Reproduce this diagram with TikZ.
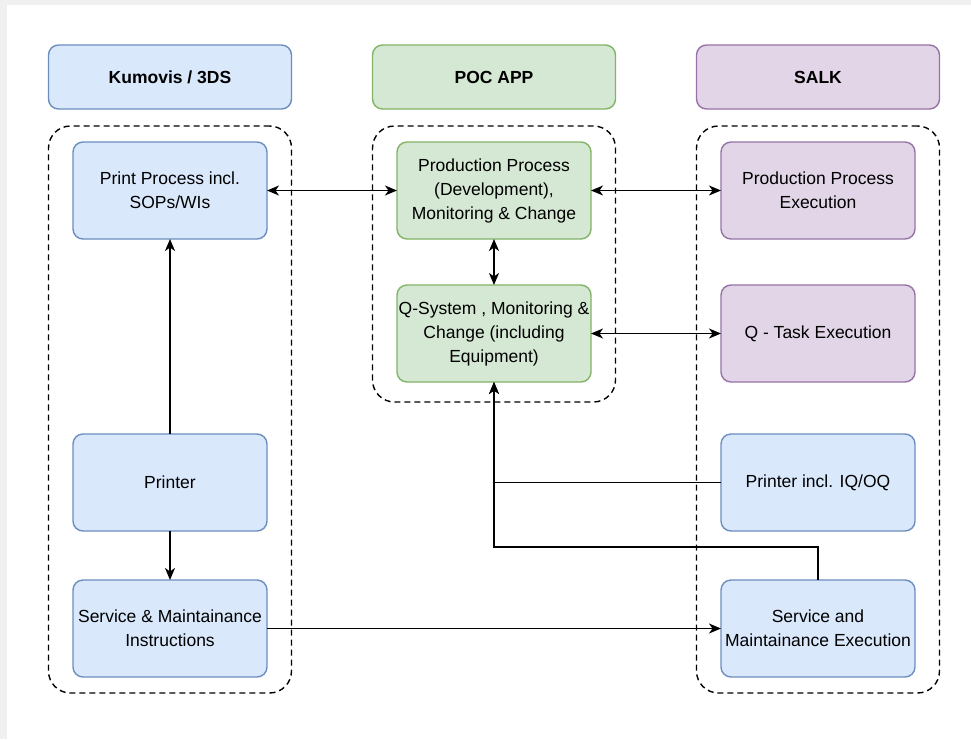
\documentclass[tikz,border=0pt]{standalone}
\usepackage{fontspec}
\setmainfont{Liberation Sans}
\usetikzlibrary{arrows.meta,positioning,fit}
\definecolor{kfill}{HTML}{DAE8FC}
\definecolor{kline}{HTML}{6C8EBF}
\definecolor{pfill}{HTML}{D5E8D4}
\definecolor{pline}{HTML}{82B366}
\definecolor{sfill}{HTML}{E1D5E7}
\definecolor{sline}{HTML}{9673A6}
\definecolor{pageedge}{HTML}{F0F0F0}

\begin{document}
\begin{tikzpicture}[x=1pt, y=1pt,
  font=\fontsize{17.5}{24}\selectfont,
  >={Stealth[length=12pt, width=10pt, inset=3.5pt]},
  task/.style={draw, rounded corners=10pt, align=center, minimum width=194pt, minimum height=97pt, inner sep=1pt, outer sep=0pt, line width=1.4pt},
  kum/.style={task, fill=kfill, draw=kline},
  poc/.style={task, fill=pfill, draw=pline},
  salk/.style={task, fill=sfill, draw=sline},
  head/.style={minimum width=243pt, minimum height=64pt, font=\fontsize{17.5}{24}\selectfont\bfseries},
  grp/.style={draw, dash pattern=on 6pt off 4pt, rounded corners=22pt, line width=1.4pt, inner xsep=24.5pt, inner ysep=16pt},
  link/.style={->, line width=1.6pt},
  both/.style={<->, line width=1.6pt},
  node distance=46pt and 130pt]
\useasboundingbox (0,0) rectangle (971,-739);
\fill[pageedge] (0,0) rectangle (971,-739);
\fill[white] (7,-5) rectangle (971,-739);
% Kumovis / 3DS column
\node[kum] (print) at (170,-190.5) {Print Process incl.\\ SOPs/WIs};
\node[kum, below=195pt of print] (printer) {Printer};
\node[kum, below=49pt of printer] (svc) {Service \& Maintainance\\ Instructions};
% POC APP column
\node[poc, right=of print] (prod) {Production Process\\ (Development),\\ Monitoring \& Change};
\node[poc, below=of prod] (qsys) {Q-System , Monitoring \&\\ Change (including\\ Equipment)};
% SALK column
\node[salk, right=of prod] (prodx) {Production Process\\ Execution};
\node[salk, right=of qsys] (qtask) {Q - Task Execution};
\node[kum, below=52pt of qtask] (printx) {Printer incl. IQ/OQ};
\node[kum, below=49pt of printx] (svcx) {Service and\\ Maintainance Execution};
% groups and headers
\node[grp, fit=(print)(svc)] (kgrp) {};
\node[grp, fit=(prod)(qsys), inner ysep=18pt, yshift=-2pt] (pgrp) {};
\node[grp, fit=(prodx)(svcx)] (sgrp) {};
\node[kum, head, above=33pt of print] (khead) {Kumovis / 3DS};
\node[poc, head, above=33pt of prod] (phead) {POC APP};
\node[salk, head, above=33pt of prodx] (shead) {SALK};
% connectors
\draw[both] (print) -- (prod);
\draw[both] (prod) -- (prodx);
\draw[both] (prod) -- (qsys);
\draw[both] (qsys) -- (qtask);
\draw[link] (printer) -- (print);
\draw[link] (printer) -- (svc);
\draw[link] (svc) -- (svcx);
\draw[link] (printx.west) -| (qsys.south);
\draw[link] (svcx.north) -- ++(0,33) -| (qsys.south);
\end{tikzpicture}
\end{document}
